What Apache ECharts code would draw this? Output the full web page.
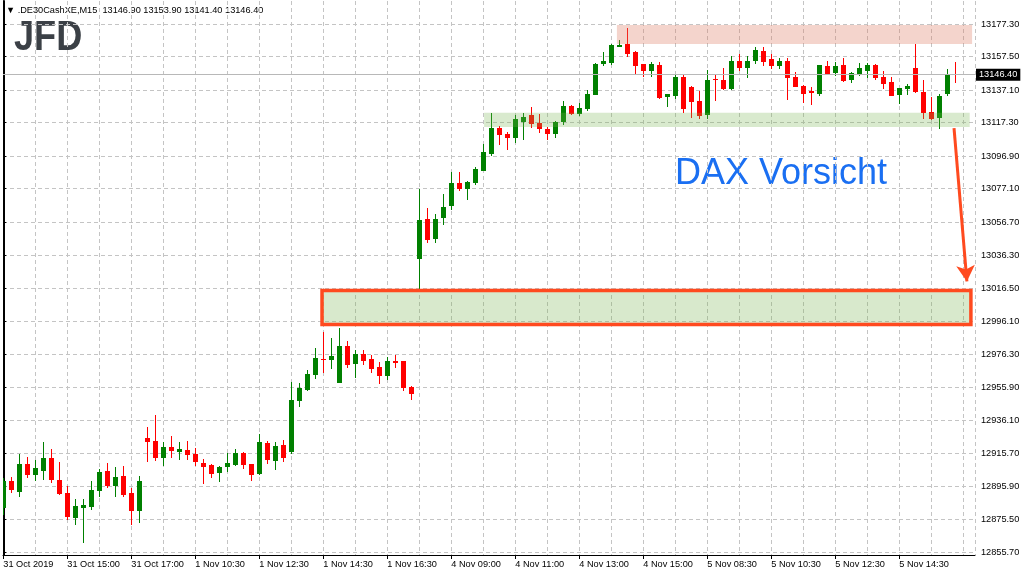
<!DOCTYPE html>
<html><head><meta charset="utf-8">
<script src="https://cdn.jsdelivr.net/npm/echarts@6/dist/echarts.min.js"></script>
<style>html,body{margin:0;padding:0;background:#fff}#c{width:1024px;height:576px}</style>
</head><body><div id="c"></div>
<script>
// ---- data (M15 candles, .DE30CashXE) ----
const openP = [12882.7,12898.9,12892.4,12909.3,12902.8,12905.2,12913.0,12899.6,12891.6,12876.6,
12882.7,12883.3,12893.1,12905.0,12895.9,12902.0,12891.6,12880.9,12925.1,12923.3,
12913.2,12919.6,12916.8,12917.8,12915.4,12909.9,12908.7,12904.0,12907.7,12908.9,
12916.0,12909.3,12903.4,12922.1,12911.3,12920.9,12916.8,12947.9,12954.6,12963.7,
12973.3,12972.6,12958.8,12981.4,12970.4,12976.5,12973.3,12968.4,12963.1,12972.0,
12972.0,12956.4,13034.4,13058.5,13046.6,13059.3,13066.7,13080.5,13077.0,13080.5,
13088.0,13098.3,13114.0,13110.3,13108.1,13117.8,13121.9,13117.0,13113.4,13110.4,
13117.6,13127.4,13122.7,13125.5,13134.0,13153.1,13153.5,13163.5,13165.1,13160.3,
13152.9,13148.7,13152.3,13133.0,13133.6,13145.0,13138.9,13130.4,13121.9,13143.8,
13143.2,13137.7,13154.8,13150.5,13154.8,13160.9,13156.0,13151.7,13154.8,13145.0,
13139.5,13136.5,13134.9,13151.7,13147.5,13152.3,13143.2,13146.2,13148.7,13152.3,
13145.0,13142.0,13134.0,13137.7,13150.5,13135.9,13123.7,13120.0,13134.7,13146.9];
const closeP = [12898.9,12893.7,12909.3,12902.8,12906.9,12913.0,12899.6,12891.2,12877.2,12883.7,
12884.3,12893.5,12904.4,12895.9,12901.4,12890.4,12880.9,12899.0,12922.9,12913.2,
12919.7,12917.4,12918.4,12915.0,12910.7,12907.7,12903.4,12907.5,12909.9,12916.0,
12908.9,12902.8,12922.7,12911.9,12920.3,12913.2,12948.3,12955.6,12964.1,12973.9,
12972.9,12975.1,12981.4,12969.6,12976.5,12972.0,12967.4,12963.1,12972.0,12971.0,
12955.8,12952.1,13057.9,13046.0,13058.5,13065.8,13080.5,13077.0,13081.1,13089.0,
13099.3,13114.0,13109.9,13108.1,13119.4,13120.7,13116.6,13113.4,13110.3,13117.6,
13127.4,13122.7,13126.1,13134.6,13152.9,13154.8,13164.5,13164.5,13159.0,13151.9,
13148.7,13152.9,13132.2,13134.7,13145.0,13125.5,13129.8,13121.3,13143.2,13143.2,
13137.7,13154.8,13150.5,13154.8,13161.5,13154.2,13151.7,13154.8,13144.4,13138.9,
13134.7,13135.3,13152.3,13146.8,13151.7,13142.6,13147.5,13150.5,13152.3,13144.4,
13140.8,13133.4,13138.3,13139.5,13135.9,13123.1,13119.4,13133.5,13146.8,13146.4];
const lowP = [12878.2,12891.8,12889.4,12901.0,12899.1,12899.5,12897.9,12890.6,12875.4,12872.4,
12861.4,12881.5,12889.4,12894.9,12889.4,12889.4,12872.4,12873.6,12910.7,12911.3,
12908.3,12913.2,12911.9,12911.9,12908.3,12897.3,12901.0,12898.5,12904.6,12908.3,
12906.5,12899.2,12902.8,12909.5,12905.9,12910.7,12915.4,12944.2,12954.0,12961.3,
12964.9,12967.2,12958.5,12968.0,12961.9,12969.8,12964.7,12958.2,12960.7,12968.0,
12954.0,12948.3,13015.7,13044.1,13044.1,13055.1,13064.2,13075.8,13070.3,13079.2,
13087.8,13097.1,13103.6,13100.6,13105.0,13106.6,13114.2,13111.1,13106.6,13108.0,
13116.0,13122.1,13121.5,13124.3,13134.0,13151.9,13152.5,13163.1,13157.2,13147.0,
13145.0,13145.0,13131.6,13127.0,13131.6,13123.1,13120.1,13119.4,13119.4,13130.4,
13137.1,13137.1,13148.7,13144.4,13152.9,13151.7,13149.9,13149.9,13131.0,13138.7,
13129.2,13128.0,13133.5,13146.2,13145.6,13142.0,13141.4,13145.6,13144.4,13143.2,
13137.7,13133.2,13128.6,13134.0,13135.5,13119.4,13118.8,13113.3,13133.5,13141.4];
const highP = [12900.6,12901.2,12915.4,12913.6,12911.7,12922.7,12918.4,12910.5,12895.9,12888.0,
12888.0,12898.9,12906.3,12909.9,12907.5,12908.1,12894.7,12902.0,12931.8,12939.1,
12922.7,12926.4,12922.7,12923.3,12919.0,12912.3,12909.3,12908.3,12916.2,12918.4,
12916.6,12909.5,12927.6,12923.3,12922.7,12923.9,12959.2,12958.6,12966.5,12979.9,
12989.8,12986.0,12992.3,12984.4,12978.7,12978.9,12975.9,12971.6,12974.5,12975.7,
12972.3,12957.0,13076.8,13065.3,13061.6,13073.8,13087.4,13087.2,13081.9,13090.2,
13104.2,13123.1,13115.2,13111.5,13121.9,13123.1,13126.7,13122.5,13114.6,13118.2,
13130.4,13128.0,13129.2,13137.1,13153.5,13160.3,13165.1,13167.6,13174.9,13160.9,
13153.0,13154.2,13154.2,13134.9,13146.8,13146.2,13139.5,13136.5,13149.3,13146.2,
13150.5,13157.8,13159.0,13157.8,13163.3,13163.3,13159.0,13156.6,13156.6,13148.1,
13140.2,13138.9,13152.6,13154.8,13154.2,13156.6,13148.1,13153.5,13153.5,13152.9,
13148.7,13145.0,13138.5,13140.8,13165.1,13143.2,13132.8,13134.7,13149.9,13153.9];

const xTickIdx = [0,8,16,24,32,40,48,56,64,72,80,88,96,104,112];
const xTickLabels = ['31 Oct 2019','31 Oct 15:00','31 Oct 17:00','1 Nov 10:30','1 Nov 12:30','1 Nov 14:30',
  '1 Nov 16:30','4 Nov 09:00','4 Nov 11:00','4 Nov 13:00','4 Nov 15:00','5 Nov 08:30','5 Nov 10:30',
  '5 Nov 12:30','5 Nov 14:30'];
const yTicks = [12855.70,12875.50,12895.90,12915.70,12936.10,12955.90,12976.30,12996.10,13016.50,
  13036.30,13056.70,13077.10,13096.90,13117.30,13137.10,13157.50,13177.30];
const lastPrice = 13146.40;
const titleText = '\u25BC .DE30CashXE,M15  13146.90 13153.90 13141.40 13146.40';

// annotation zones: [xFrom, xTo] in bar index, [priceLow, priceHigh]
const resistanceZone = {x:[76.7,121.1], y:[13165.1,13176.7]};
const supportZone    = {x:[60.1,120.8], y:[13114.6,13123.2]};
const targetZone     = {x:[39.84,120.95], y:[12994.3,13015.0]};
const arrowFrom = [118.84,13113.9], arrowTo = [120.45,13020.5];

// ---- chart ----
const UP = '#008000', DOWN = '#ff0000';
const FONT = '"Liberation Sans", Arial, sans-serif';
const candles = openP.map((o,i)=>[i,o,closeP[i],lowP[i],highP[i]]);
const chart = echarts.init(document.getElementById('c'), null, {renderer:'canvas'});
const X_MIN = -0.0375, X_MAX = 121.4625, Y_MIN = 12853.87, Y_MAX = 13191.31;

chart.setOption({
  animation:false,
  backgroundColor:'#ffffff',
  grid:{left:3,right:49,top:1,bottom:21,containLabel:false},
  xAxis:[{
    type:'value', min:X_MIN, max:X_MAX, position:'bottom',
    axisLine:{show:true,onZero:false,lineStyle:{color:'#000',width:1}},
    axisTick:{show:true,length:4,customValues:xTickIdx,lineStyle:{color:'#000'}},
    axisLabel:{show:true,customValues:xTickIdx,align:'left',margin:5,color:'#000',fontSize:9.2,fontFamily:FONT,
      formatter:v=>xTickLabels[Math.round(v/8)]||''},
    splitLine:{show:false}
  },{
    type:'value', min:X_MIN, max:X_MAX, interval:4, position:'bottom',
    axisLine:{show:false}, axisTick:{show:false}, axisLabel:{show:false},
    splitLine:{show:true,lineStyle:{color:'#c4c4c4',type:[4,3],width:1}}
  }],
  yAxis:[{
    type:'value', min:Y_MIN, max:Y_MAX, position:'right',
    axisLine:{show:true,lineStyle:{color:'#000',width:1}},
    axisTick:{show:true,length:3,customValues:yTicks,lineStyle:{color:'#000'}},
    axisLabel:{show:true,customValues:yTicks,margin:6,color:'#000',fontSize:9.2,fontFamily:FONT,
      formatter:v=>v.toFixed(2)},
    splitLine:{show:true,lineStyle:{color:'#c4c4c4',type:[4,3],width:1}}
  },{
    type:'value', min:Y_MIN, max:Y_MAX, position:'left',
    axisLine:{show:true,lineStyle:{color:'#000',width:2}},
    axisTick:{show:false}, axisLabel:{show:false}, splitLine:{show:false}
  }],
  series:[{
    type:'custom', name:'candles', xAxisIndex:0, yAxisIndex:0, clip:true, z:2,
    data:candles, encode:{x:0,y:[1,2,3,4]},
    renderItem:function(params,api){
      const i=api.value(0),o=api.value(1),c=api.value(2),l=api.value(3),h=api.value(4);
      const pO=api.coord([i,o]),pC=api.coord([i,c]),pL=api.coord([i,l]),pH=api.coord([i,h]);
      const col = c>o?UP:DOWN;
      const px = Math.round(pO[0]-0.5);
      const top=Math.round(Math.min(pO[1],pC[1])), bot=Math.round(Math.max(pO[1],pC[1]));
      return {type:'group',children:[
        {type:'line',shape:{x1:px+0.5,y1:Math.round(pH[1]),x2:px+0.5,y2:Math.round(pL[1])},style:{stroke:col,lineWidth:1}},
        {type:'rect',shape:{x:px-2,y:top,width:5,height:Math.max(1,bot-top)},style:{fill:col}}
      ]};
    }
  },{
    type:'line', name:'zones', xAxisIndex:0, yAxisIndex:0, data:[], z:4,
    markArea:{silent:true, z:4, data:[
      [{xAxis:resistanceZone.x[0],yAxis:resistanceZone.y[1],itemStyle:{color:'rgba(222,120,95,0.32)'}},
       {xAxis:resistanceZone.x[1],yAxis:resistanceZone.y[0]}],
      [{xAxis:supportZone.x[0],yAxis:supportZone.y[1],itemStyle:{color:'rgba(120,180,80,0.28)'}},
       {xAxis:supportZone.x[1],yAxis:supportZone.y[0]}],
      [{xAxis:targetZone.x[0],yAxis:targetZone.y[1],itemStyle:{color:'rgba(120,180,80,0.29)',borderColor:'#ff4a1f',borderWidth:3.5}},
       {xAxis:targetZone.x[1],yAxis:targetZone.y[0]}]
    ]}
  },{
    type:'line', name:'price', xAxisIndex:0, yAxisIndex:0, data:[], z:3,
    markLine:{silent:true, symbol:'none', data:[{yAxis:lastPrice}],
      lineStyle:{color:'#b8b8b8',type:'solid',width:1},
      label:{show:true,position:'end',distance:1,formatter:lastPrice.toFixed(2),backgroundColor:'#000',
        color:'#fff',padding:[2,3,1,3],fontSize:9.2,fontFamily:FONT}}
  },{
    type:'line', name:'arrow', xAxisIndex:0, yAxisIndex:0, data:[], z:6,
    markLine:{silent:true, symbol:['none','arrow'], symbolSize:[14,16],
      lineStyle:{color:'#ff4a1f',type:'solid',width:3}, label:{show:false},
      data:[[{coord:arrowFrom},{coord:arrowTo}]]}
  }],
  graphic:[
    {type:'text', x:6, y:10, style:{text:titleText, font:'9.2px '+FONT, fill:'#000', verticalAlign:'middle'}},
    {type:'text', x:14, y:38, scaleX:0.86, style:{text:'JFD', font:'bold 42px '+FONT, fill:'#3b4046', verticalAlign:'middle'}},
    {type:'text', x:675, y:174, style:{text:'DAX Vorsicht', font:'36px '+FONT, fill:'#1a6ff2', verticalAlign:'middle'}}
  ]
});
</script>
</body></html>
